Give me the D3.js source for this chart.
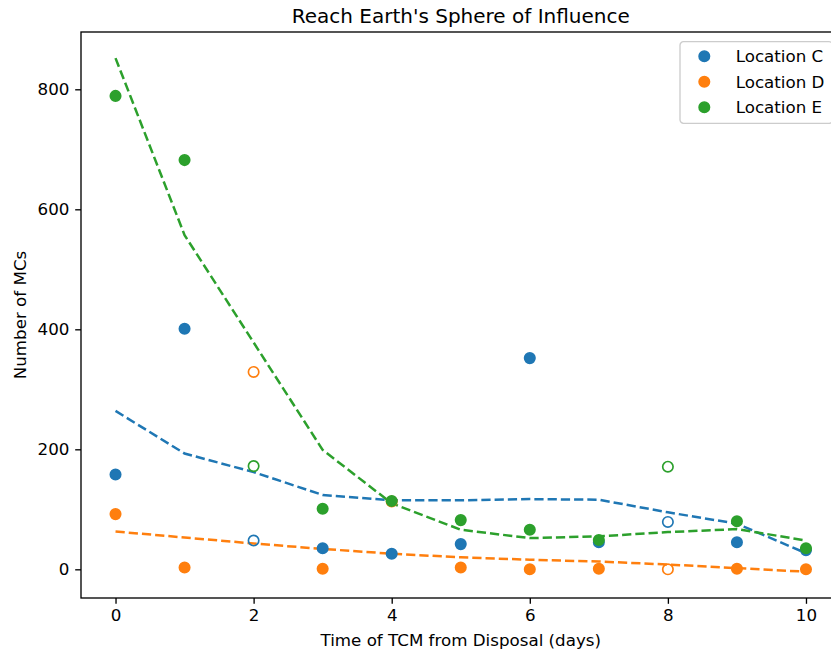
<!DOCTYPE html>
<html>
<head>
<meta charset="utf-8">
<script src="https://cdn.jsdelivr.net/npm/d3@7"></script>
<style>
  html, body { margin: 0; padding: 0; background: #fff; }
  svg { display: block; font-family: "DejaVu Sans", sans-serif; }
</style>
</head>
<body>
<svg id="chart" width="831" height="655"></svg>
<script>
// Days after disposal at which the trajectory correction manoeuvre is applied
const days = [0, 1, 2, 3, 4, 5, 6, 7, 8, 9, 10];
// Days whose runs are drawn as hollow markers
const hollowDays = [2, 8];

// Number of Monte Carlo runs reaching Earth's sphere of influence
const locationC = [158, 401, 48, 35, 26, 42, 352, 45, 79, 45, 32];
const locationD = [92, 3, 329, 1, 113, 3, 0, 1, 0, 1, 0];
const locationE = [789, 682, 172, 101, 114, 82, 66, 49, 171, 80, 35];

// Smoothed trend for each location
const trendC = [264, 193, 162, 124, 115, 115, 117, 116, 95, 76, 27];
const trendD = [63, 53, 43, 34, 26, 20, 16, 13, 8, 2, -4];
const trendE = [852, 557, 378, 199, 110, 66, 52, 55, 62, 67, 48];

const seriesNames = ["Location C", "Location D", "Location E"];
const xTicks = [0, 2, 4, 6, 8, 10];
const yTicks = [0, 200, 400, 600, 800];

const colors = ["#1f77b4", "#ff7f0e", "#2ca02c"];
const series = [
  { name: seriesNames[0], values: locationC, trend: trendC, color: colors[0] },
  { name: seriesNames[1], values: locationD, trend: trendD, color: colors[1] },
  { name: seriesNames[2], values: locationE, trend: trendE, color: colors[2] }
];

const svg = d3.select("#chart");
const plot = { left: 81, right: 840.5, top: 32, bottom: 598 };

const x = d3.scaleLinear().domain([-0.5, 10.5]).range([plot.left, plot.right]);
const y = d3.scaleLinear().domain([-47.8, 895.5]).range([plot.bottom, plot.top]);

const fontSize = 16.7;

// Trend lines
const line = d3.line().x((d, i) => x(days[i])).y(d => y(d));
series.forEach(s => {
  svg.append("path")
    .datum(s.trend)
    .attr("d", line)
    .attr("fill", "none")
    .attr("stroke", s.color)
    .attr("stroke-width", 2.5)
    .attr("stroke-dasharray", "9.25,4");
});

// Scatter markers
series.forEach(s => {
  svg.append("g")
    .selectAll("circle")
    .data(s.values.map((v, i) => ({ day: days[i], v })))
    .join("circle")
    .attr("cx", d => x(d.day))
    .attr("cy", d => y(d.v))
    .attr("r", 5.2)
    .attr("fill", d => hollowDays.includes(d.day) ? "none" : s.color)
    .attr("stroke", s.color)
    .attr("stroke-width", 1.67);
});

// Axes
const xAxis = svg.append("g")
  .attr("transform", `translate(0,${plot.bottom})`)
  .call(d3.axisBottom(x).tickValues(xTicks).tickFormat(d3.format("d")).tickSize(5.8).tickPadding(5.8));
const yAxis = svg.append("g")
  .attr("transform", `translate(${plot.left},0)`)
  .call(d3.axisLeft(y).tickValues(yTicks).tickFormat(d3.format("d")).tickSize(5.8).tickPadding(5.8));

[xAxis, yAxis].forEach(a => {
  a.select(".domain").remove();
  a.selectAll(".tick line").attr("stroke", "#000").attr("stroke-width", 1.33);
  a.selectAll(".tick text")
    .attr("fill", "#000")
    .style("font-size", fontSize + "px")
    .style("font-family", "DejaVu Sans");
});

// Frame
svg.append("rect")
  .attr("x", plot.left)
  .attr("y", plot.top)
  .attr("width", plot.right - plot.left)
  .attr("height", plot.bottom - plot.top)
  .attr("fill", "none")
  .attr("stroke", "#000")
  .attr("stroke-width", 1.33);

// Title and axis labels
svg.append("text")
  .attr("x", (plot.left + plot.right) / 2)
  .attr("y", 23)
  .attr("text-anchor", "middle")
  .style("font-size", "20px")
  .text("Reach Earth's Sphere of Influence");

svg.append("text")
  .attr("x", (plot.left + plot.right) / 2)
  .attr("y", 646)
  .attr("text-anchor", "middle")
  .style("font-size", fontSize + "px")
  .text("Time of TCM from Disposal (days)");

svg.append("text")
  .attr("transform", `translate(26,${(plot.top + plot.bottom) / 2}) rotate(-90)`)
  .attr("text-anchor", "middle")
  .style("font-size", fontSize + "px")
  .text("Number of MCs");

// Legend
const legend = svg.append("g").attr("transform", "translate(680,41.7)");
legend.append("rect")
  .attr("width", 152.5)
  .attr("height", 81.6)
  .attr("rx", 3.5)
  .attr("fill", "#fff")
  .attr("fill-opacity", 0.8)
  .attr("stroke", "#cccccc")
  .attr("stroke-width", 1.33);

series.forEach((s, i) => {
  const row = legend.append("g").attr("transform", `translate(0,${14.5 + i * 25.5})`);
  row.append("circle")
    .attr("cx", 24.3)
    .attr("cy", 0)
    .attr("r", 5.2)
    .attr("fill", s.color)
    .attr("stroke", s.color)
    .attr("stroke-width", 1.67);
  row.append("text")
    .attr("x", 55.7)
    .attr("y", 6)
    .style("font-size", fontSize + "px")
    .text(s.name);
});
</script>
</body>
</html>
